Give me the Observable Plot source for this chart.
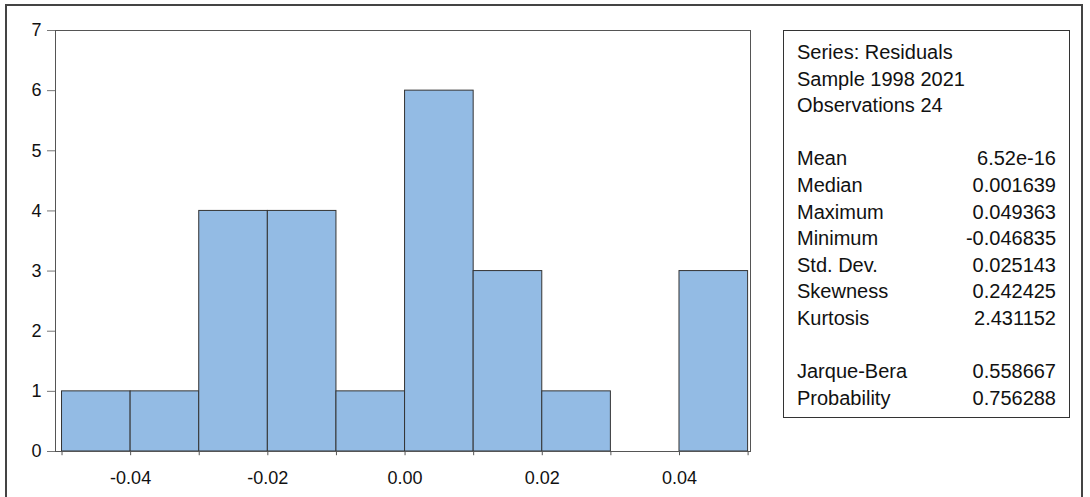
<!DOCTYPE html>
<html><head><meta charset="utf-8">
<script src="https://cdn.jsdelivr.net/npm/d3@7"></script>
<script src="https://cdn.jsdelivr.net/npm/@observablehq/plot@0.6"></script>
<style>
body{margin:0;background:#fff;font-family:Arial,"Liberation Sans",sans-serif;}
#wrap{position:relative;width:1090px;height:497px;overflow:hidden;}
#frame{position:absolute;left:5px;top:4px;width:1078px;height:520px;border:2px solid #444;box-sizing:border-box;}
#chart{position:absolute;left:0;top:0;}
#stats{position:absolute;left:783px;top:30px;width:287px;height:388px;border:1px solid #333;box-sizing:border-box;font-size:20px;line-height:26.6px;padding:8px 13px 0 13px;color:#111;}
.row{display:flex;justify-content:space-between;}
</style></head><body>
<div id="wrap"><div id="frame"></div><div id="chart"></div><div id="stats"></div></div>
<script>
const binStarts = [-0.05,-0.04,-0.03,-0.02,-0.01,0,0.01,0.02,0.03,0.04];
const counts = [1,1,4,4,1,6,3,1,0,3];
const binWidth = 0.01;
const xTicks = [-0.04,-0.02,0,0.02,0.04];
const yTicks = [0,1,2,3,4,5,6,7];
const header = ["Series: Residuals","Sample 1998 2021","Observations 24"];
const statNames = ["Mean","Median","Maximum","Minimum","Std. Dev.","Skewness","Kurtosis"];
const statValues = ["6.52e-16","0.001639","0.049363","-0.046835","0.025143","0.242425","2.431152"];
const testNames = ["Jarque-Bera","Probability"];
const testValues = ["0.558667","0.756288"];

const bins = binStarts.map((s,i)=>({x1:s,x2:s+binWidth,y:counts[i]})).filter(d=>d.y>0);
const minor = binStarts.concat([0.05]);
const fmtX = d => (d<0?"-":"") + Math.abs(d).toFixed(2);

const plot = Plot.plot({
  width:1090,height:497,marginLeft:55,marginRight:340,marginTop:30,marginBottom:46,
  style:{fontFamily:"Arial, 'Liberation Sans', sans-serif",fontSize:"18px",color:"#111"},
  x:{domain:[-0.05095,0.05035],axis:null},
  y:{domain:[0,7],axis:null},
  marks:[
    Plot.rectY(bins,{x1:"x1",x2:"x2",y:"y",fill:"#93bbe4",stroke:"#333",strokeWidth:1}),
    Plot.ruleX(minor,{x:d=>d,y1:0,y2:-0.07,stroke:"#555",clip:false}),
    Plot.frame({stroke:"#555"}),
    Plot.axisY({ticks:yTicks,tickSize:8,tickPadding:6,stroke:"#777",tickFormat:"d",label:null,fontSize:18}),
    Plot.axisX({ticks:xTicks,tickSize:0,tickPadding:20,tickFormat:fmtX,label:null,fontSize:18})
  ]
});
document.getElementById("chart").appendChild(plot);

let html = header.map(h=>`<div>${h}</div>`).join("") + "<div>&nbsp;</div>";
html += statNames.map((n,i)=>`<div class="row"><span>${n}</span><span>${statValues[i]}</span></div>`).join("");
html += "<div>&nbsp;</div>";
html += testNames.map((n,i)=>`<div class="row"><span>${n}</span><span>${testValues[i]}</span></div>`).join("");
document.getElementById("stats").innerHTML = html;
</script></body></html>
